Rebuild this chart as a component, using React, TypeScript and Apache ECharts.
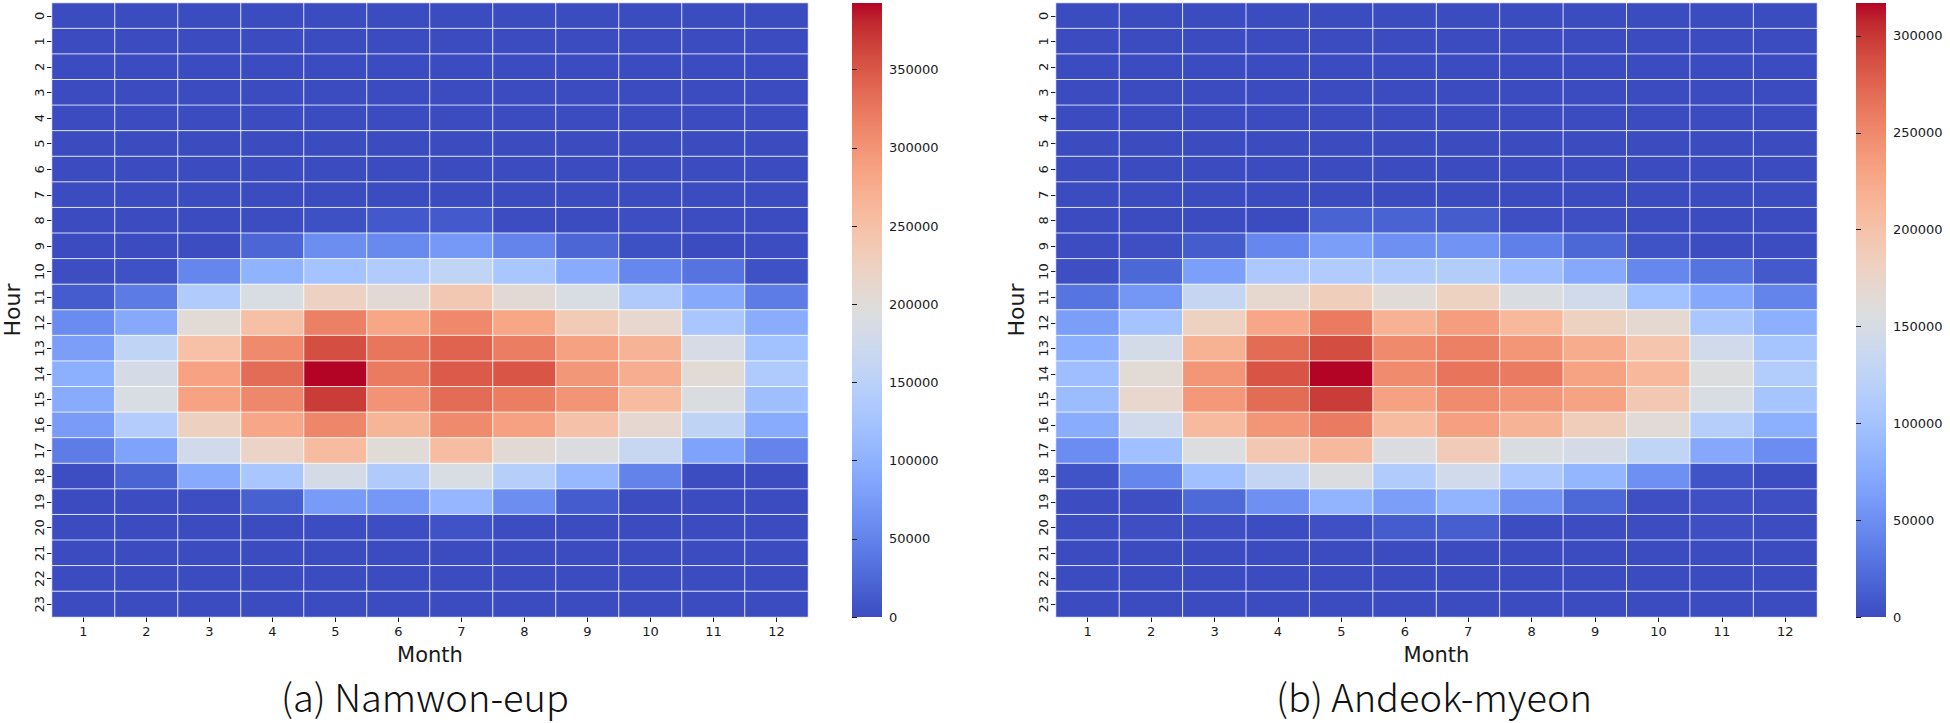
import React, { useEffect, useRef } from "react";
import * as echarts from "echarts";

const months = ["1", "2", "3", "4", "5", "6", "7", "8", "9", "10", "11", "12"];
const hours = ["0", "1", "2", "3", "4", "5", "6", "7", "8", "9", "10", "11", "12", "13", "14", "15", "16", "17", "18", "19", "20", "21", "22", "23"];

// (a) Namwon-eup, rows = hour 0..23, columns = month 1..12
const namwonValues: number[][] = [
  [0, 0, 0, 0, 0, 0, 0, 0, 0, 0, 0, 0],
  [0, 0, 0, 0, 0, 0, 0, 0, 0, 0, 0, 0],
  [0, 0, 0, 0, 0, 0, 0, 0, 0, 0, 0, 0],
  [0, 0, 0, 0, 0, 0, 0, 0, 0, 0, 0, 0],
  [0, 0, 0, 0, 0, 0, 0, 0, 0, 0, 0, 0],
  [0, 0, 0, 0, 0, 0, 0, 0, 0, 0, 0, 0],
  [0, 0, 0, 0, 0, 0, 0, 0, 0, 0, 0, 0],
  [0, 0, 0, 0, 0, 0, 0, 0, 0, 0, 0, 0],
  [0, 0, 0, 1000, 4000, 11000, 12000, 1000, 0, 2000, 1000, 0],
  [0, 0, 1000, 23000, 61000, 57000, 72000, 51000, 23000, 4000, 0, 1000],
  [2000, 5000, 53000, 102000, 125000, 138000, 157000, 129000, 93000, 54000, 35000, 5000],
  [14000, 42000, 139000, 188000, 223000, 206000, 239000, 206000, 188000, 137000, 90000, 43000],
  [59000, 90000, 204000, 251000, 318000, 282000, 310000, 282000, 235000, 212000, 130000, 94000],
  [78000, 157000, 250000, 309000, 357000, 326000, 341000, 320000, 287000, 267000, 185000, 122000],
  [98000, 182000, 286000, 334000, 392600, 322000, 348000, 351000, 297000, 273000, 204000, 136000],
  [93000, 188000, 286000, 312000, 369000, 301000, 334000, 321000, 300000, 257000, 193000, 118000],
  [76000, 141000, 226000, 281000, 313000, 265000, 309000, 287000, 248000, 210000, 156000, 93000],
  [43000, 83000, 178000, 219000, 257000, 202000, 255000, 206000, 193000, 166000, 83000, 51000],
  [2000, 21000, 91000, 130000, 184000, 137000, 188000, 143000, 109000, 50000, 1000, 1000],
  [0, 1000, 2000, 18000, 75000, 71000, 108000, 61000, 14000, 1000, 0, 0],
  [0, 0, 0, 0, 1000, 2000, 6000, 1000, 0, 0, 0, 0],
  [0, 0, 0, 0, 0, 0, 0, 0, 0, 0, 0, 0],
  [0, 0, 0, 0, 0, 0, 0, 0, 0, 0, 0, 0],
  [0, 0, 0, 0, 0, 0, 0, 0, 0, 0, 0, 0],
];

// (b) Andeok-myeon
const andeokValues: number[][] = [
  [0, 0, 0, 0, 0, 0, 0, 0, 0, 0, 0, 0],
  [0, 0, 0, 0, 0, 0, 0, 0, 0, 0, 0, 0],
  [0, 0, 0, 0, 0, 0, 0, 0, 0, 0, 0, 0],
  [0, 0, 0, 0, 0, 0, 0, 0, 0, 0, 0, 0],
  [0, 0, 0, 0, 0, 0, 0, 0, 0, 0, 0, 0],
  [0, 0, 0, 0, 0, 0, 0, 0, 0, 0, 0, 0],
  [0, 0, 0, 0, 0, 0, 0, 0, 0, 0, 0, 0],
  [0, 0, 0, 0, 0, 0, 0, 0, 0, 0, 0, 0],
  [0, 0, 0, 0, 16000, 16000, 11000, 2000, 2000, 1000, 0, 0],
  [1000, 2000, 11000, 44000, 63000, 51000, 54000, 38000, 19000, 5000, 1000, 1000],
  [2000, 19000, 64000, 108000, 112000, 112000, 114000, 95000, 73000, 44000, 29000, 10000],
  [30000, 57000, 132000, 170000, 185000, 163000, 181000, 154000, 144000, 98000, 72000, 41000],
  [63000, 101000, 181000, 227000, 260000, 217000, 235000, 211000, 181000, 168000, 105000, 79000],
  [78000, 146000, 217000, 270000, 289000, 250000, 257000, 241000, 222000, 197000, 144000, 102000],
  [95000, 165000, 241000, 284000, 317000, 249000, 265000, 260000, 230000, 211000, 157000, 113000],
  [92000, 171000, 239000, 270000, 298000, 231000, 249000, 241000, 230000, 193000, 152000, 102000],
  [76000, 144000, 209000, 241000, 260000, 208000, 233000, 216000, 187000, 165000, 117000, 78000],
  [49000, 97000, 157000, 193000, 210000, 155000, 189000, 154000, 149000, 127000, 72000, 49000],
  [6000, 43000, 97000, 130000, 155000, 112000, 143000, 108000, 86000, 51000, 6000, 1000],
  [1000, 2000, 21000, 51000, 84000, 63000, 84000, 52000, 20000, 2000, 3000, 2000],
  [1000, 2000, 2000, 1000, 3000, 11000, 13000, 1000, 1000, 1000, 2000, 1000],
  [0, 0, 0, 0, 0, 0, 0, 0, 0, 0, 0, 0],
  [0, 0, 0, 0, 0, 0, 0, 0, 0, 0, 0, 0],
  [0, 0, 0, 0, 0, 0, 0, 0, 0, 0, 0, 0],
];

const namwonMax = 392600;
const andeokMax = 317000;
const namwonBarTicks = [0, 50000, 100000, 150000, 200000, 250000, 300000, 350000];
const andeokBarTicks = [0, 50000, 100000, 150000, 200000, 250000, 300000];
const titles = ["(a) Namwon-eup", "(b) Andeok-myeon"];

const coolwarm = [
  "#3b4cc0", "#445acc", "#4d68d7", "#5775e1", "#6282ea", "#6c8ef1", "#779af7", "#82a5fb",
  "#8db0fe", "#98b9ff", "#a3c2ff", "#aec9fd", "#b8d0f9", "#c2d5f4", "#ccd9ee", "#d5dbe6",
  "#dddddd", "#e5d8d1", "#ecd3c5", "#f1ccb8", "#f5c4ac", "#f7bb9f", "#f7b193", "#f7a686",
  "#f49a7b", "#f18d6f", "#ec7f63", "#e57058", "#de604d", "#d55042", "#cb3e38", "#c0282f",
  "#b40426",
];

const FONT = "DejaVu Sans";
const TXT = "#1a1a1a";

function toCells(values: number[][]) {
  const out: [number, number, number][] = [];
  values.forEach((row, h) => row.forEach((v, m) => out.push([m, h, v])));
  return out;
}

export default function App() {
  const ref = useRef<HTMLDivElement>(null);
  useEffect(() => {
    document.body.style.margin = "0";
    if (!ref.current) return;
    const chart = echarts.init(ref.current, null, { renderer: "svg" });

    const heatGrids = [
      { left: 51, top: 3, width: 757, height: 614 },
      { left: 1056, top: 3, width: 761, height: 614 },
    ];
    const barGrids = [
      { left: 852, top: 3, width: 30, height: 614 },
      { left: 1856, top: 3, width: 30, height: 614 },
    ];
    const maxes = [namwonMax, andeokMax];
    const barTicks = [namwonBarTicks, andeokBarTicks];
    const datasets = [namwonValues, andeokValues];

    const xAxes: any[] = [];
    const yAxes: any[] = [];
    [0, 1].forEach((i) => {
      xAxes.push({
        type: "category",
        gridIndex: i,
        data: months,
        axisLine: { show: false },
        axisTick: { show: true, alignWithLabel: true, interval: 0, length: 5, lineStyle: { color: TXT, width: 1 } },
        axisLabel: { interval: 0, fontSize: 13, fontFamily: FONT, color: TXT, margin: 8 },
        splitLine: { show: false },
        name: "Month",
        nameLocation: "middle",
        nameGap: 27,
        nameTextStyle: { fontSize: 21, fontFamily: FONT, color: TXT },
      });
      yAxes.push({
        type: "category",
        gridIndex: i,
        data: hours,
        inverse: true,
        axisLine: { show: false },
        axisTick: { show: true, alignWithLabel: true, interval: 0, length: 5, lineStyle: { color: TXT, width: 1 } },
        axisLabel: { interval: 0, rotate: 90, fontSize: 13, fontFamily: FONT, color: TXT, margin: 6 },
        splitLine: { show: false },
        name: "Hour",
        nameLocation: "middle",
        nameRotate: 90,
        nameGap: 29,
        nameTextStyle: { fontSize: 22, fontFamily: FONT, color: TXT },
      });
    });
    [0, 1].forEach((i) => {
      xAxes.push({ type: "value", gridIndex: 2 + i, min: 0, max: 1, show: false });
      yAxes.push({
        type: "value",
        gridIndex: 2 + i,
        position: "right",
        min: 0,
        max: maxes[i],
        axisLine: { show: false },
        splitLine: { show: false },
        axisTick: { show: true, length: 5, customValues: barTicks[i], lineStyle: { color: TXT, width: 1 } },
        axisLabel: {
          customValues: barTicks[i],
          formatter: (v: number) => String(v),
          fontSize: 13,
          fontFamily: FONT,
          color: TXT,
          margin: 7,
        },
      });
    });

    const stops = coolwarm.map((c, k) => ({ offset: k / (coolwarm.length - 1), color: c }));

    chart.setOption({
      animation: false,
      backgroundColor: "#ffffff",
      grid: [...heatGrids, ...barGrids],
      xAxis: xAxes,
      yAxis: yAxes,
      visualMap: [0, 1].map((i) => ({
        type: "continuous",
        show: false,
        min: 0,
        max: maxes[i],
        seriesIndex: i,
        dimension: 2,
        inRange: { color: coolwarm },
      })),
      series: [0, 1].map((i) => ({
        type: "heatmap",
        xAxisIndex: i,
        yAxisIndex: i,
        data: toCells(datasets[i]),
        itemStyle: { borderColor: "#ffffff", borderWidth: 0.8 },
        emphasis: { disabled: true },
      })),
      graphic: [
        ...barGrids.map((g) => ({
          type: "rect",
          shape: { x: g.left, y: g.top, width: g.width, height: g.height },
          style: {
            fill: new echarts.graphic.LinearGradient(0, 1, 0, 0, stops),
          },
          silent: true,
        })),
        ...[0, 1].map((i) => ({
          type: "text",
          x: i === 0 ? 425 : 1434,
          y: 695,
          style: {
            text: titles[i],
            fontSize: 38,
            fontWeight: 300,
            fontFamily: "Noto Sans CJK KR",
            fill: "#111111",
            align: "center",
            verticalAlign: "middle",
          },
        })),
      ],
    });
    return () => chart.dispose();
  }, []);
  return <div ref={ref} style={{ width: 1950, height: 723 }} />;
}
